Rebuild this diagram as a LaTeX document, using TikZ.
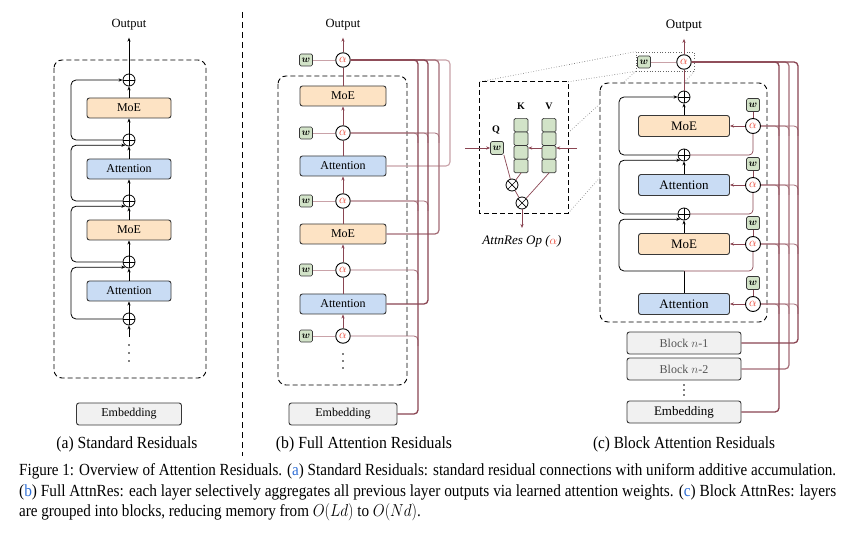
\documentclass[tikz,border=0pt]{standalone}
\usepackage{fontspec}
\setmainfont{Liberation Serif}
\usepackage{amsmath}
\usepackage{graphicx}
\usetikzlibrary{arrows.meta,calc}
\definecolor{moefill}{HTML}{FDE3C4}
\definecolor{attfill}{HTML}{C9DCF4}
\definecolor{embfill}{HTML}{F1F1F1}
\definecolor{wfill}{HTML}{D2E3C8}
\definecolor{brn}{HTML}{8A4552}
\definecolor{brnm}{HTML}{A36B75}
\definecolor{brnl}{HTML}{C9A2A8}
\definecolor{alphared}{HTML}{E8412F}
\definecolor{capblue}{HTML}{2F6FD6}
\definecolor{boxline}{HTML}{383838}
\definecolor{blocktext}{HTML}{555555}
\newcommand{\mycapfont}{\fontsize{17}{20}\selectfont}
\newsavebox\capboxA
\newsavebox\capboxB
\newsavebox\capboxC
\begin{document}
\sbox\capboxA{\mycapfont Figure 1: Overview of Attention Residuals. (\textcolor{capblue}{a}) Standard Residuals: standard residual connections with uniform additive accumulation.}
\sbox\capboxB{\mycapfont (\textcolor{capblue}{b}) Full AttnRes: each layer selectively aggregates all previous layer outputs via learned attention weights. (\textcolor{capblue}{c}) Block AttnRes: layers}
\sbox\capboxC{\mycapfont are grouped into blocks, reducing memory from $O(Ld)$ to $O(Nd)$.}
\begin{tikzpicture}[x=1pt,y=-1pt,
  layer/.style={draw=boxline, line width=0.9pt, rounded corners=2.5pt, minimum height=20pt, inner sep=0pt, font=\fontsize{12}{14}\selectfont},
  moe/.style={layer, fill=moefill},
  att/.style={layer, fill=attfill},
  emb/.style={layer, fill=embfill, minimum height=22pt},
  blockbox/.style={layer, fill=embfill, minimum height=22pt, minimum width=114pt, text=blocktext},
  outlbl/.style={inner sep=0pt, font=\fontsize{12.5}{14}\selectfont},
  plusn/.style={circle, draw=black, line width=0.8pt, fill=white, minimum size=12pt, inner sep=0pt,
    path picture={\draw[line width=0.7pt] (path picture bounding box.north) -- (path picture bounding box.south) (path picture bounding box.west) -- (path picture bounding box.east);}},
  otim/.style={circle, draw=black, line width=0.8pt, fill=white, minimum size=12pt, inner sep=0pt,
    path picture={\draw[line width=0.7pt] (path picture bounding box.north west) -- (path picture bounding box.south east) (path picture bounding box.north east) -- (path picture bounding box.south west);}},
  alphan/.style={circle, draw=black, line width=0.9pt, fill=white, minimum size=14.5pt, inner sep=0pt, font=\fontsize{12}{12}\selectfont, text=alphared},
  wbox/.style={draw=boxline, fill=wfill, rounded corners=1.5pt, minimum width=13pt, minimum height=12pt, inner sep=0pt, line width=0.7pt, font=\fontsize{10}{10}\selectfont},
  cell/.style={draw=boxline, fill=wfill, rounded corners=1.5pt, minimum width=14pt, minimum height=13.6pt, inner sep=0pt, line width=0.7pt},
  arr/.style={-{Stealth[length=4pt,width=3.2pt]}},
  blk/.style={line width=0.8pt, black},
  bthin/.style={line width=0.7pt, brn},
  resid/.style={blk, arr, rounded corners=5pt},
  dashbox/.style={dashed, dash pattern=on 5pt off 3pt, line width=0.9pt, rounded corners=8pt},
  dotl/.style={dotted, line width=0.6pt, black!60},
  subcap/.style={inner sep=0pt}
]
\useasboundingbox (0,0) rectangle (860,540);
\fill[white] (0,0) rectangle (860,540);

%================ Panel (a) =================
\draw[dashbox] (54,60) rectangle (206,378);
\node[outlbl] (oa) at (129,25) {Output};
\node[plusn] (pa1) at (129,80) {};
\node[moe, minimum width=84pt] (a1) at (129,108) {MoE};
\node[plusn] (pa2) at (129,140) {};
\node[att, minimum width=84pt] (a2) at (129,169) {Attention};
\node[plusn] (pa3) at (129,201) {};
\node[moe, minimum width=84pt] (a3) at (129,230) {MoE};
\node[plusn] (pa4) at (129,262) {};
\node[att, minimum width=84pt] (a4) at (129,291) {Attention};
\node[plusn] (pa5) at (129,319) {};
\coordinate (da) at (129,337);
\foreach \yy in {345,353,361} \fill (129,\yy) circle (0.8pt);
\node[emb, minimum width=105pt] (ea) at (129,414) {Embedding};
\coordinate (La) at (71,0);

\draw[blk,arr,shorten >=7pt] (pa1.north) -- (oa.south);
\draw[blk,arr] (a1.north) -- (pa1.south);
\draw[blk,arr] (pa2.north) -- (a1.south);
\draw[blk,arr] (a2.north) -- (pa2.south);
\draw[blk,arr] (pa3.north) -- (a2.south);
\draw[blk,arr] (a3.north) -- (pa3.south);
\draw[blk,arr] (pa4.north) -- (a3.south);
\draw[blk,arr] (a4.north) -- (pa4.south);
\draw[blk,arr] (pa5.north) -- (a4.south);
\draw[blk,arr] (da) -- (pa5.south);
\draw[resid] (pa2.west) -- (La |- pa2.west) -- (La |- pa1.west) -- (pa1.west);
\draw[resid] (pa3.west) -- (La |- pa3.west) -- (La |- pa2.235) -- (pa2.235);
\draw[resid] (pa4.west) -- (La |- pa4.west) -- (La |- pa3.235) -- (pa3.235);
\draw[resid] (pa5.west) -- (La |- pa5.west) -- (La |- pa4.235) -- (pa4.235);

\node[subcap] (capa) at (127,444) {\resizebox{141pt}{\height}{\mycapfont (a) Standard Residuals}};

%================ divider =================
\coordinate (dv1) at (242,12);
\coordinate (dv2) at (242,456);
\draw[dashed, dash pattern=on 6pt off 4pt, line width=0.9pt] (dv1) -- (dv2);

%================ Panel (b) =================
\draw[dashbox] (278,76) rectangle (407,385);
\node[outlbl] (ob) at (343,25) {Output};
\node[alphan] (pb1) at (343,60) {$\alpha$};
\node[moe, minimum width=86pt] (b1) at (343,96) {MoE};
\node[alphan] (pb2) at (343,133) {$\alpha$};
\node[att, minimum width=86pt] (b2) at (343,166) {Attention};
\node[alphan] (pb3) at (343,201) {$\alpha$};
\node[moe, minimum width=86pt] (b3) at (343,234) {MoE};
\node[alphan] (pb4) at (343,270) {$\alpha$};
\node[att, minimum width=86pt] (b4) at (343,304) {Attention};
\node[alphan] (pb5) at (343,336) {$\alpha$};
\foreach \yy in {354,361,368} \fill (343,\yy) circle (0.8pt);
\node[emb, minimum width=108pt] (eb) at (343,414) {Embedding};
\foreach \i/\yy in {1/60,2/133,3/201,4/270,5/336}
  \node[wbox] (wb\i) at (306,\yy) {$\boldsymbol{w}$};
\foreach \i in {1,...,5} \draw[brnl, line width=0.8pt] (wb\i.east) -- (pb\i.west);

\draw[bthin,arr,shorten >=7pt] (pb1.north) -- (ob.south);
\draw[bthin] (b1.north) -- (pb1.south);
\draw[bthin,arr] (pb2.north) -- (b1.south);
\draw[bthin] (b2.north) -- (pb2.south);
\draw[bthin,arr] (pb3.north) -- (b2.south);
\draw[bthin] (b3.north) -- (pb3.south);
\draw[bthin,arr] (pb4.north) -- (b3.south);
\draw[bthin] (b4.north) -- (pb4.south);
\draw[bthin,arr] (pb5.north) -- (b4.south);

\coordinate (Vb1) at (418,0);
\coordinate (Vb2) at (428,0);
\coordinate (Vb3) at (439,0);
\coordinate (Vb4) at (450,0);
% alpha joins
\begin{scope}[brnm, line width=0.8pt, rounded corners=4pt]
\draw (pb5.east) -- (Vb1 |- pb5.east) -- ++(0,10);
\draw (pb4.east) -- (Vb1 |- pb4.east) -- ++(0,10);
\draw (pb3.east) -- (Vb1 |- pb3.east) -- ++(0,10);
\draw (pb3.east) -- (Vb2 |- pb3.east) -- ++(0,10);
\draw (pb2.east) -- (Vb1 |- pb2.east) -- ++(0,10);
\draw (pb2.east) -- (Vb2 |- pb2.east) -- ++(0,10);
\draw (pb2.east) -- (Vb3 |- pb2.east) -- ++(0,10);
\end{scope}
% outputs
\draw[brnl, line width=1.1pt, rounded corners=4pt] (b2.east) -- (Vb4 |- b2.east) -- (Vb4 |- pb1.east) -- (pb1.east);
\draw[brnm, line width=1.2pt, rounded corners=4pt] (b3.east) -- (Vb3 |- b3.east) -- (Vb3 |- pb1.east) -- (pb1.east);
\draw[brn, line width=1.3pt, rounded corners=4pt] (b4.east) -- (Vb2 |- b4.east) -- (Vb2 |- pb1.east) -- (pb1.east);
\draw[brn, line width=1.3pt, rounded corners=4pt] (eb.east) -- (Vb1 |- eb.east) -- (Vb1 |- pb1.east) -- (pb1.east);

\node[subcap] (capb) at (364,444) {\resizebox{176pt}{\height}{\mycapfont (b) Full Attention Residuals}};

%================ zoom lines + AttnRes Op =================
\node[draw=black!60, dotted, line width=0.7pt, minimum width=58pt, minimum height=19pt, inner sep=0pt] (zr) at (665,61.5) {};
\node[minimum width=88pt, minimum height=131pt, inner sep=0pt] (op) at (524,147.5) {};
\draw[dotl] (op.north west) -- (zr.north west);
\draw[dotl] (op.north east) -- (zr.south west);
\draw[dotl] (op.south west) -- (zr.south west);
\draw[dotl] (op.south east) -- (zr.south east);
\draw[dashed, dash pattern=on 5pt off 3pt, line width=0.8pt, fill=white] (op.north west) rectangle (op.south east);

\node[inner sep=0pt, font=\fontsize{10}{10}\selectfont\bfseries] (qlbl) at (496,130) {Q};
\node[inner sep=0pt, font=\fontsize{10}{10}\selectfont\bfseries] (klbl) at (521,106) {K};
\node[inner sep=0pt, font=\fontsize{10}{10}\selectfont\bfseries] (vlbl) at (549,106) {V};
\node[wbox, minimum width=13pt, minimum height=13pt] (qw) at (497,148) {$\boldsymbol{w}$};
\foreach \i/\yy in {1/125.2,2/138.8,3/152.4,4/166} {
  \node[cell] (k\i) at (521,\yy) {};
  \node[cell] (v\i) at (549,\yy) {};
}
\node[minimum width=14pt, minimum height=54.4pt, inner sep=0pt] (kc) at (521,145.6) {};
\node[minimum width=14pt, minimum height=54.4pt, inner sep=0pt] (vc) at (549,145.6) {};
\node[otim] (o1) at (512,185) {};
\node[otim] (o2) at (522,203) {};
\coordinate (inl) at (465,148);
\coordinate (inr) at (577,148);
\coordinate (opout) at (522,228);
\draw[bthin,arr] (inl) -- (qw.west);
\draw[bthin,arr] (inr) -- (vc.east |- inr);
\draw[bthin,arr] (vc.west |- inr) -- (kc.east |- inr);
\draw[bthin] (qw.south east) -- (o1);
\draw[bthin] (kc.south) -- (o1);
\draw[bthin] (o1) -- (o2);
\draw[bthin] (vc.south) -- (o2);
\draw[bthin,arr] (o2.south) -- (opout);
\node[inner sep=0pt, font=\fontsize{13}{15}\selectfont\itshape] (oplbl) at (522,241) {AttnRes Op (\textcolor{alphared}{$\alpha$})};

%================ Panel (c) =================
\draw[dashbox, fill=white] (600,83) rectangle (767,322);
\node[outlbl, font=\fontsize{13}{15}\selectfont] (oc) at (684,26) {Output};
\node[alphan] (pc0) at (684,62) {$\alpha$};
\node[wbox] (wc0) at (644,62) {$\boldsymbol{w}$};
\node[plusn] (pc1) at (684,97) {};
\node[moe, minimum width=91pt, minimum height=21pt, font=\fontsize{13}{15}\selectfont] (c1) at (684,126) {MoE};
\node[plusn] (pc2) at (684,155) {};
\node[att, minimum width=91pt, minimum height=21pt, font=\fontsize{13}{15}\selectfont] (c2) at (684,185) {Attention};
\node[plusn] (pc3) at (684,214) {};
\node[moe, minimum width=91pt, minimum height=21pt, font=\fontsize{13}{15}\selectfont] (c3) at (684,244) {MoE};
\coordinate (jc) at (684,271);
\node[att, minimum width=91pt, minimum height=21pt, font=\fontsize{13}{15}\selectfont] (c4) at (684,304) {Attention};
\foreach \i/\yy in {1/126,2/185,3/244,4/304} {
  \node[alphan, minimum size=15pt] (ac\i) at (753,\yy) {$\alpha$};
  \node[wbox, minimum height=13pt] (wc\i) at (753,\yy-21) {$\boldsymbol{w}$};
}
\node[blockbox, font=\fontsize{12}{14}\selectfont] (bn1) at (684,343) {Block $n$-1};
\node[blockbox, font=\fontsize{12}{14}\selectfont] (bn2) at (684,369) {Block $n$-2};
\foreach \yy in {385,390,395} \fill (684,\yy) circle (0.8pt);
\node[emb, minimum width=114pt, font=\fontsize{13}{15}\selectfont] (ec) at (684,412) {Embedding};
\coordinate (Lc) at (619,0);

\draw[brnl, line width=0.8pt] (wc0.east) -- (pc0.west);
\draw[bthin,arr,shorten >=7pt] (pc0.north) -- (oc.south);
\draw[bthin] (pc1.north) -- (pc0.south);
\draw[blk,arr] (c1.north) -- (pc1.south);
\draw[blk,arr] (c2.north) -- (pc2.south);
\draw[blk,arr] (c3.north) -- (pc3.south);
\draw[blk] (c4.north) -- (jc);
\draw[resid] (pc2.west) -- (Lc |- pc2.west) -- (Lc |- pc1.west) -- (pc1.west);
\draw[resid] (pc3.west) -- (Lc |- pc3.west) -- (Lc |- pc2.235) -- (pc2.235);
\draw[resid] (jc) -- (Lc |- jc) -- (Lc |- pc3.235) -- (pc3.235);
\foreach \i in {1,...,4} {
  \draw[bthin] (wc\i.south) -- (ac\i.north);
  \draw[bthin,arr] (ac\i.west) -- (c\i.east);
}
\draw[bthin, rounded corners=4pt] (ac1.south) -- (ac1.south |- pc2.east) -- (pc2.east);
\draw[bthin, rounded corners=4pt] (ac2.south) -- (ac2.south |- pc3.east) -- (pc3.east);
\draw[bthin, rounded corners=4pt] (ac3.south) -- (ac3.south |- jc) -- (jc);

\coordinate (Vc1) at (779,0);
\coordinate (Vc2) at (789,0);
\coordinate (Vc3) at (798,0);
\begin{scope}[brnm, line width=0.8pt, rounded corners=4pt]
\foreach \i in {1,...,4} {
  \draw (ac\i.east) -- (Vc1 |- ac\i.east) -- ++(0,10);
  \draw (ac\i.east) -- (Vc2 |- ac\i.east) -- ++(0,10);
  \draw (ac\i.east) -- (Vc3 |- ac\i.east) -- ++(0,10);
}
\end{scope}
\draw[brnm, line width=1.2pt, rounded corners=4pt] (bn2.east) -- (Vc2 |- bn2.east) -- (Vc2 |- pc0.east) -- (pc0.east);
\draw[brn, line width=1.3pt, rounded corners=4pt] (bn1.east) -- (Vc3 |- bn1.east) -- (Vc3 |- pc0.east) -- (pc0.east);
\draw[brn, line width=1.3pt, rounded corners=4pt] (ec.east) -- (Vc1 |- ec.east) -- (Vc1 |- pc0.east) -- (pc0.east);

\node[subcap] (capc) at (684,444) {\resizebox{182pt}{\height}{\mycapfont (c) Block Attention Residuals}};

%================ caption =================
\pgfmathsetmacro\capsc{817/\the\wd\capboxA}
\node[anchor=west, inner sep=0pt] (cap1) at (19,471) {\scalebox{\capsc}[1]{\usebox\capboxA}};
\node[anchor=west, inner sep=0pt] (cap2) at (19,492) {\resizebox{817pt}{\height}{\usebox\capboxB}};
\node[anchor=west, inner sep=0pt] (cap3) at (19,512) {\scalebox{\capsc}[1]{\usebox\capboxC}};
\end{tikzpicture}
\end{document}
